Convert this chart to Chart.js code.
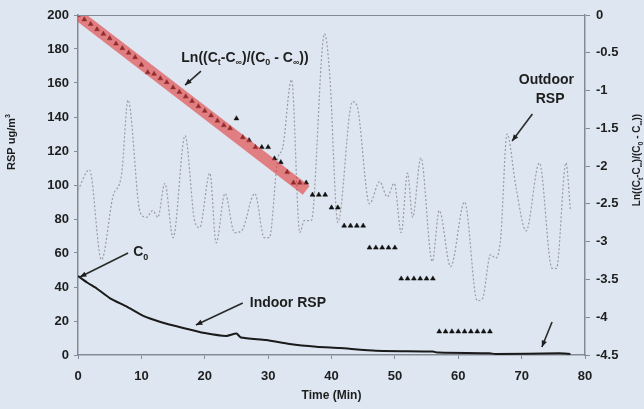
<!DOCTYPE html>
<html>
<head>
<meta charset="utf-8">
<script src="https://cdn.jsdelivr.net/npm/chart.js"></script>
<style>
  html, body { margin: 0; padding: 0; background: #dde6f1; }
</style>
</head>
<body>
<canvas id="myChart" width="644" height="409"></canvas>
<script>
// outdoor RSP (ug/m3)
const outdoorTime = [0, 1.8, 3.7, 5.5, 6.9, 7.9, 9.8, 10.8, 11.8, 12.6, 13.7, 15, 16.9, 18.4, 19.2, 20.8, 21.8, 23.2, 24.7, 25.8, 27.9, 29.4, 30.2, 31.5, 32.3, 33.7, 35, 35.7, 36.8, 38.9, 39.7, 41, 43.3, 44, 46, 47.6, 48.8, 49.9, 51, 52, 52.8, 54.1, 55.9, 57, 58.8, 61, 63, 63.8, 65.1, 65.9, 66.7, 67.7, 69.1, 70.7, 72.8, 74.8, 75.5, 77, 77.7];
const outdoorRsp = [97, 109, 56, 93, 107, 150, 84, 81, 85, 81, 101, 69, 129, 79, 75, 107, 66, 95, 72, 73, 95, 69, 69, 115, 122, 162, 72, 79, 79, 189, 166, 78, 149, 147, 89, 102, 93, 101, 72, 107, 81, 116, 55, 85, 52, 90, 32, 33, 59, 57, 69, 130, 99, 73, 113, 51, 51, 113, 85];

// indoor RSP (ug/m3)
const indoorTime = [0, 1.5, 3, 5, 7.7, 10.3, 12.9, 16.6, 20, 23.4, 25, 25.7, 29.7, 33.4, 37.6, 41.3, 47, 56, 56.8, 64.9, 65.9, 75.9, 77.7];
const indoorRsp = [46.5, 42.5, 39, 33.5, 28.4, 23, 19.6, 15.9, 12.9, 11.2, 12.6, 10.3, 8.8, 6.5, 4.9, 4.1, 2.5, 2, 1.4, 1, 0.6, 1, 0.6];

// Ln((Ct-Cinf)/(C0-Cinf)), one value per minute
const lnTime = [0, 1, 2, 3, 4, 5, 6, 7, 8, 9, 10, 11, 12, 13, 14, 15, 16, 17, 18, 19, 20, 21, 22, 23, 24, 25, 26, 27, 28, 29, 30, 31, 32, 33, 34, 35, 36, 37, 38, 39, 40, 41, 42, 43, 44, 45, 46, 47, 48, 49, 50, 51, 52, 53, 54, 55, 56, 57, 58, 59, 60, 61, 62, 63, 64, 65];
const lnValue = [0, -0.06, -0.12, -0.19, -0.25, -0.31, -0.38, -0.44, -0.5, -0.56, -0.66, -0.76, -0.78, -0.84, -0.89, -0.96, -1.02, -1.08, -1.14, -1.21, -1.27, -1.33, -1.4, -1.46, -1.5, -1.37, -1.62, -1.66, -1.75, -1.75, -1.75, -1.9, -1.95, -2.08, -2.22, -2.22, -2.22, -2.38, -2.38, -2.38, -2.55, -2.55, -2.79, -2.79, -2.79, -2.79, -3.08, -3.08, -3.08, -3.08, -3.08, -3.49, -3.49, -3.49, -3.49, -3.49, -3.49, -4.19, -4.19, -4.19, -4.19, -4.19, -4.19, -4.19, -4.19, -4.19];

// fitted straight line (red band)
const fitTime = [0, 36];
const fitValue = [0, -2.32];

const xTicks = [0, 80, 10];
const leftTicks = [0, 200, 20];
const rightTicks = [-4.5, 0, 0.5];

function pts(xs, ys) {
  return xs.map((x, i) => ({ x: x, y: ys[i] }));
}

const INK = '#1e1e1e';
const AXIS = '#858b95';
const FAM = '"Liberation Sans", Arial, sans-serif';

// text with subscripts: parts like ['Ln((C', ['t'], '-C']
function richWidth(ctx, parts, size) {
  let w = 0;
  parts.forEach(p => {
    const sub = Array.isArray(p);
    ctx.font = 'bold ' + (sub ? Math.round(size * 0.65) : size) + 'px ' + FAM;
    w += ctx.measureText(sub ? p[0] : p).width;
  });
  return w;
}
function richText(ctx, parts, x, y, size) {
  let cx = x;
  ctx.textAlign = 'left';
  ctx.textBaseline = 'alphabetic';
  parts.forEach(p => {
    const sub = Array.isArray(p);
    ctx.font = 'bold ' + (sub ? Math.round(size * 0.65) : size) + 'px ' + FAM;
    const t = sub ? p[0] : p;
    ctx.fillText(t, cx, sub ? y + size * 0.25 : y);
    cx += ctx.measureText(t).width;
  });
}
function arrow(ctx, x1, y1, x2, y2) {
  ctx.beginPath();
  ctx.moveTo(x1, y1);
  ctx.lineTo(x2, y2);
  ctx.stroke();
  const a = Math.atan2(y2 - y1, x2 - x1);
  ctx.beginPath();
  ctx.moveTo(x2, y2);
  ctx.lineTo(x2 - 7 * Math.cos(a - 0.4), y2 - 7 * Math.sin(a - 0.4));
  ctx.lineTo(x2 - 7 * Math.cos(a + 0.4), y2 - 7 * Math.sin(a + 0.4));
  ctx.closePath();
  ctx.fill();
}

const lnLabel = ['Ln((C', ['t'], '-C', ['\u221e'], ')/(C', ['0'], ' - C', ['\u221e'], '))'];

const decor = {
  id: 'decor',
  beforeDraw(chart) {
    const ctx = chart.ctx;
    ctx.save();
    ctx.fillStyle = '#dde6f1';
    ctx.fillRect(0, 0, chart.width, chart.height);
    ctx.restore();
  },
  afterDatasetsDraw(chart) {
    const ctx = chart.ctx;
    const a = chart.chartArea;
    const X = v => chart.scales.x.getPixelForValue(v);
    const Y = v => chart.scales.y.getPixelForValue(v);
    ctx.save();
    // frame top line
    ctx.strokeStyle = AXIS;
    ctx.lineWidth = 1;
    ctx.beginPath();
    ctx.moveTo(a.left, a.top + 0.5);
    ctx.lineTo(a.right, a.top + 0.5);
    ctx.stroke();

    ctx.fillStyle = INK;
    ctx.strokeStyle = '#2a2a2a';
    ctx.lineWidth = 1.6;
    // Ln label
    richText(ctx, lnLabel, X(16.3), Y(172.4), 14);
    arrow(ctx, X(19.4), Y(167), X(16.9), Y(158.8));
    // Outdoor RSP
    ctx.font = 'bold 14px ' + FAM;
    ctx.textAlign = 'center';
    ctx.fillText('Outdoor', X(73.9), Y(159.4));
    ctx.fillText('RSP', X(74.5), Y(148.2));
    arrow(ctx, X(71.7), Y(141.8), X(68.5), Y(125.9));
    // C0
    richText(ctx, ['C', ['0']], X(8.7), Y(58.2), 14);
    arrow(ctx, X(7.9), Y(60), X(0.3), Y(45.9));
    // Indoor RSP
    ctx.font = 'bold 14px ' + FAM;
    ctx.textAlign = 'left';
    ctx.fillText('Indoor RSP', X(27.1), Y(28.2));
    arrow(ctx, X(26), Y(30.6), X(18.6), Y(17.6));
    // small arrow near the end
    arrow(ctx, X(74.8), Y(19.4), X(73.2), Y(4.7));

    // axis titles
    ctx.save();
    ctx.translate(15, 142);
    ctx.rotate(-Math.PI / 2);
    const lw = richWidth(ctx, ['RSP ug/m', ['3']], 11);
    ctx.font = 'bold 11px ' + FAM;
    ctx.textAlign = 'left';
    ctx.fillText('RSP ug/m', -lw / 2, 0);
    const w1 = ctx.measureText('RSP ug/m').width;
    ctx.font = 'bold 7px ' + FAM;
    ctx.fillText('3', -lw / 2 + w1, -5);
    ctx.restore();

    ctx.save();
    ctx.translate(640, 160);
    ctx.rotate(-Math.PI / 2);
    const rw = richWidth(ctx, lnLabel, 10);
    richText(ctx, lnLabel, -rw / 2, 0, 10);
    ctx.restore();

    ctx.font = 'bold 12px ' + FAM;
    ctx.textAlign = 'center';
    ctx.fillText('Time (Min)', X(40), 399);
    ctx.restore();
  }
};

const tickFont = { family: FAM, size: 13, weight: 'bold' };

new Chart(document.getElementById('myChart').getContext('2d'), {
  type: 'line',
  data: {
    datasets: [
      {
        label: 'fit',
        data: pts(fitTime, fitValue),
        yAxisID: 'y2',
        borderColor: 'rgba(226, 62, 62, 0.62)',
        borderWidth: 11,
        pointRadius: 0,
        order: 0
      },
      {
        label: 'ln',
        data: pts(lnTime, lnValue),
        yAxisID: 'y2',
        showLine: false,
        pointStyle: 'triangle',
        pointRadius: 2.8,
        backgroundColor: '#111',
        borderColor: '#111',
        borderWidth: 0.5,
        order: 1
      },
      {
        label: 'Indoor RSP',
        data: pts(indoorTime, indoorRsp),
        yAxisID: 'y',
        borderColor: '#1a1a1a',
        borderWidth: 2,
        pointRadius: 0,
        tension: 0.2,
        order: 2
      },
      {
        label: 'Outdoor RSP',
        data: pts(outdoorTime, outdoorRsp),
        yAxisID: 'y',
        borderColor: '#9a9da3',
        borderWidth: 1.2,
        borderDash: [2, 2],
        pointRadius: 0,
        cubicInterpolationMode: 'monotone',
        order: 3
      }
    ]
  },
  options: {
    responsive: false,
    animation: false,
    layout: { padding: { top: 15, left: 0, right: 0, bottom: 0 } },
    plugins: { legend: { display: false }, tooltip: { enabled: false } },
    scales: {
      x: {
        type: 'linear',
        min: xTicks[0], max: xTicks[1],
        ticks: { stepSize: xTicks[2], color: INK, font: tickFont, padding: 10 },
        grid: { drawOnChartArea: false, drawTicks: true, tickLength: 4, color: AXIS },
        border: { display: true, color: AXIS, width: 1.5 },
        afterFit(s) { s.height = 54; }
      },
      y: {
        position: 'left',
        min: leftTicks[0], max: leftTicks[1],
        ticks: { stepSize: leftTicks[2], color: INK, font: tickFont, padding: 5 },
        grid: { drawOnChartArea: false, drawTicks: true, tickLength: 4, color: AXIS },
        border: { display: true, color: AXIS, width: 1.5 },
        afterFit(s) { s.width = 78; }
      },
      y2: {
        position: 'right',
        min: rightTicks[0], max: rightTicks[1],
        ticks: {
          stepSize: rightTicks[2], color: INK, font: tickFont, padding: 6,
          callback: v => String(Math.round(v * 10) / 10)
        },
        grid: { drawOnChartArea: false, drawTicks: true, tickLength: 5, color: AXIS },
        border: { display: true, color: AXIS, width: 1.5 },
        afterFit(s) { s.width = 59; }
      }
    }
  },
  plugins: [decor]
});
</script>
</body>
</html>
